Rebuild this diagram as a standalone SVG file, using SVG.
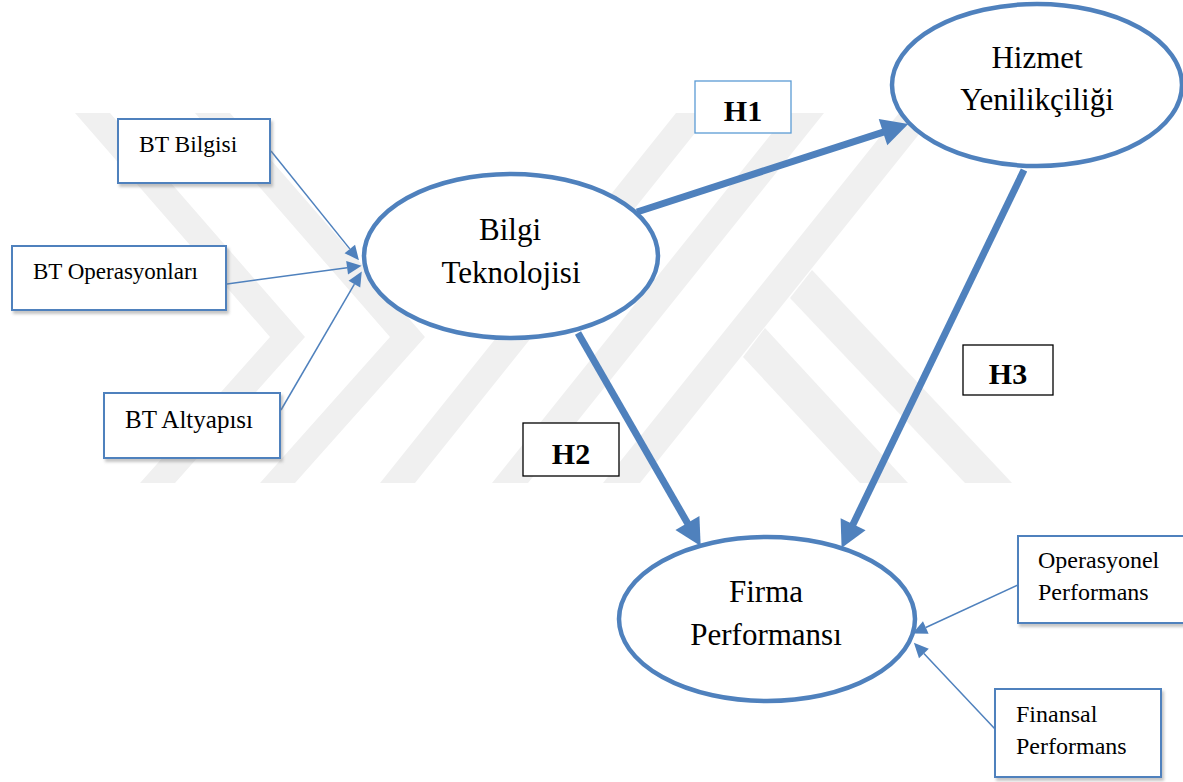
<svg xmlns="http://www.w3.org/2000/svg" width="1183" height="782" viewBox="0 0 1183 782">
<defs>
<style>
.wm{fill:#f0f0f0;stroke:none}
.box{fill:#ffffff;stroke:#4f81bd;stroke-width:2;filter:url(#sh)}
.hbox{fill:#ffffff;stroke:#000000;stroke-width:1.3}
.h1box{fill:#ffffff;stroke:#5b9bd5;stroke-width:1.3}
.ell{fill:#ffffff;stroke:#4f81bd;stroke-width:4.5}
.t{font-family:"Liberation Serif","Times New Roman",serif;fill:#000000}
.big{font-size:31px;text-anchor:middle}
.hl{font-size:30px;font-weight:bold;text-anchor:middle}
.thick{stroke:#4f81bd;stroke-width:7;fill:none;marker-end:url(#ah)}
.thin{stroke:#4f81bd;stroke-width:1.5;fill:none;marker-end:url(#as)}
</style>
<filter id="sh" x="-10%" y="-10%" width="130%" height="140%">
<feDropShadow dx="2" dy="3" stdDeviation="1.5" flood-color="#7f7f7f" flood-opacity="0.45"/>
</filter>
<marker id="ah" markerUnits="userSpaceOnUse" markerWidth="30" markerHeight="30" viewBox="-2 -13 26 26" refX="0" refY="0" orient="auto">
<path d="M-1,-12 L22,0 L-1,12 z" fill="#4f81bd"/>
</marker>
<marker id="as" markerUnits="userSpaceOnUse" markerWidth="18" markerHeight="16" viewBox="-1 -7 16 14" refX="0" refY="0" orient="auto">
<path d="M0,-6 L13,0 L0,6 z" fill="#4f81bd"/>
</marker>
<clipPath id="wmclip"><rect x="40" y="113" width="1100" height="370"/></clipPath>
</defs>
<rect width="1183" height="782" fill="#ffffff"/>
<g id="watermark" clip-path="url(#wmclip)">
<polygon class="wm" points="75,113 110,113 305,337 175,483 140,483 270,337"/>
<polygon class="wm" points="195,113 230,113 425,337 295,483 260,483 390,337"/>
<polygon class="wm" points="380,483 415,483 711,113 676,113"/>
<polygon class="wm" points="492,483 528,483 824,113 788,113"/>
<polygon class="wm" points="603,483 640,483 936,113 899,113"/>
<polygon class="wm" points="812,270 1012,483 965,483 790,298"/>
<polygon class="wm" points="765,328 908,483 860,483 743,357"/>
</g>
<g id="connectors">
<line class="thin" x1="271" y1="151" x2="349.8" y2="248.9"/>
<line class="thin" x1="227" y1="284" x2="347.1" y2="267.7"/>
<line class="thin" x1="281" y1="410" x2="354.4" y2="284.2"/>
<line class="thin" x1="1018" y1="585" x2="925.8" y2="627.5"/>
<line class="thin" x1="995" y1="729" x2="923.9" y2="653.5"/>
<line class="thick" x1="637" y1="212" x2="884.1" y2="131.8"/>
<line class="thick" x1="578" y1="333" x2="688" y2="524"/>
<line class="thick" x1="1024" y1="170" x2="852.6" y2="525.2"/>
</g>
<g id="node-bt-bilgisi">
<rect class="box" x="118" y="119" width="152" height="64"/>
<text class="t" x="139" y="152" font-size="23.5">BT Bilgisi</text>
</g>
<g id="node-bt-operasyonlari">
<rect class="box" x="12" y="246" width="214" height="64"/>
<text class="t" x="33" y="279" font-size="23">BT Operasyonları</text>
</g>
<g id="node-bt-altyapisi">
<rect class="box" x="104" y="393" width="176" height="65"/>
<text class="t" x="125" y="428" font-size="25">BT Altyapısı</text>
</g>
<g id="node-bilgi-teknolojisi">
<ellipse class="ell" cx="511" cy="256" rx="147" ry="82"/>
<text class="t big" x="510" y="240">Bilgi</text>
<text class="t big" x="511" y="283">Teknolojisi</text>
</g>
<g id="node-hizmet-yenilikciligi">
<ellipse class="ell" cx="1037" cy="85" rx="145" ry="81"/>
<text class="t big" x="1037" y="68">Hizmet</text>
<text class="t big" x="1037" y="110">Yenilikçiliği</text>
</g>
<g id="node-firma-performansi">
<ellipse class="ell" cx="767" cy="619" rx="148" ry="82"/>
<text class="t big" x="766" y="602">Firma</text>
<text class="t big" x="766" y="645">Performansı</text>
</g>
<g id="node-operasyonel-performans">
<rect class="box" x="1018" y="536" width="170" height="87"/>
<text class="t" x="1038" y="568" font-size="24">Operasyonel</text>
<text class="t" x="1038" y="600" font-size="24">Performans</text>
</g>
<g id="node-finansal-performans">
<rect class="box" x="995" y="689" width="166" height="88"/>
<text class="t" x="1016" y="722" font-size="24">Finansal</text>
<text class="t" x="1016" y="754" font-size="24">Performans</text>
</g>
<g id="label-h1">
<rect class="h1box" x="695" y="81" width="96" height="52"/>
<text class="t hl" x="743" y="121">H1</text>
</g>
<g id="label-h2">
<rect class="hbox" x="523" y="423" width="96" height="53"/>
<text class="t hl" x="571" y="464">H2</text>
</g>
<g id="label-h3">
<rect class="hbox" x="963" y="345" width="90" height="50"/>
<text class="t hl" x="1008" y="384">H3</text>
</g>
</svg>
